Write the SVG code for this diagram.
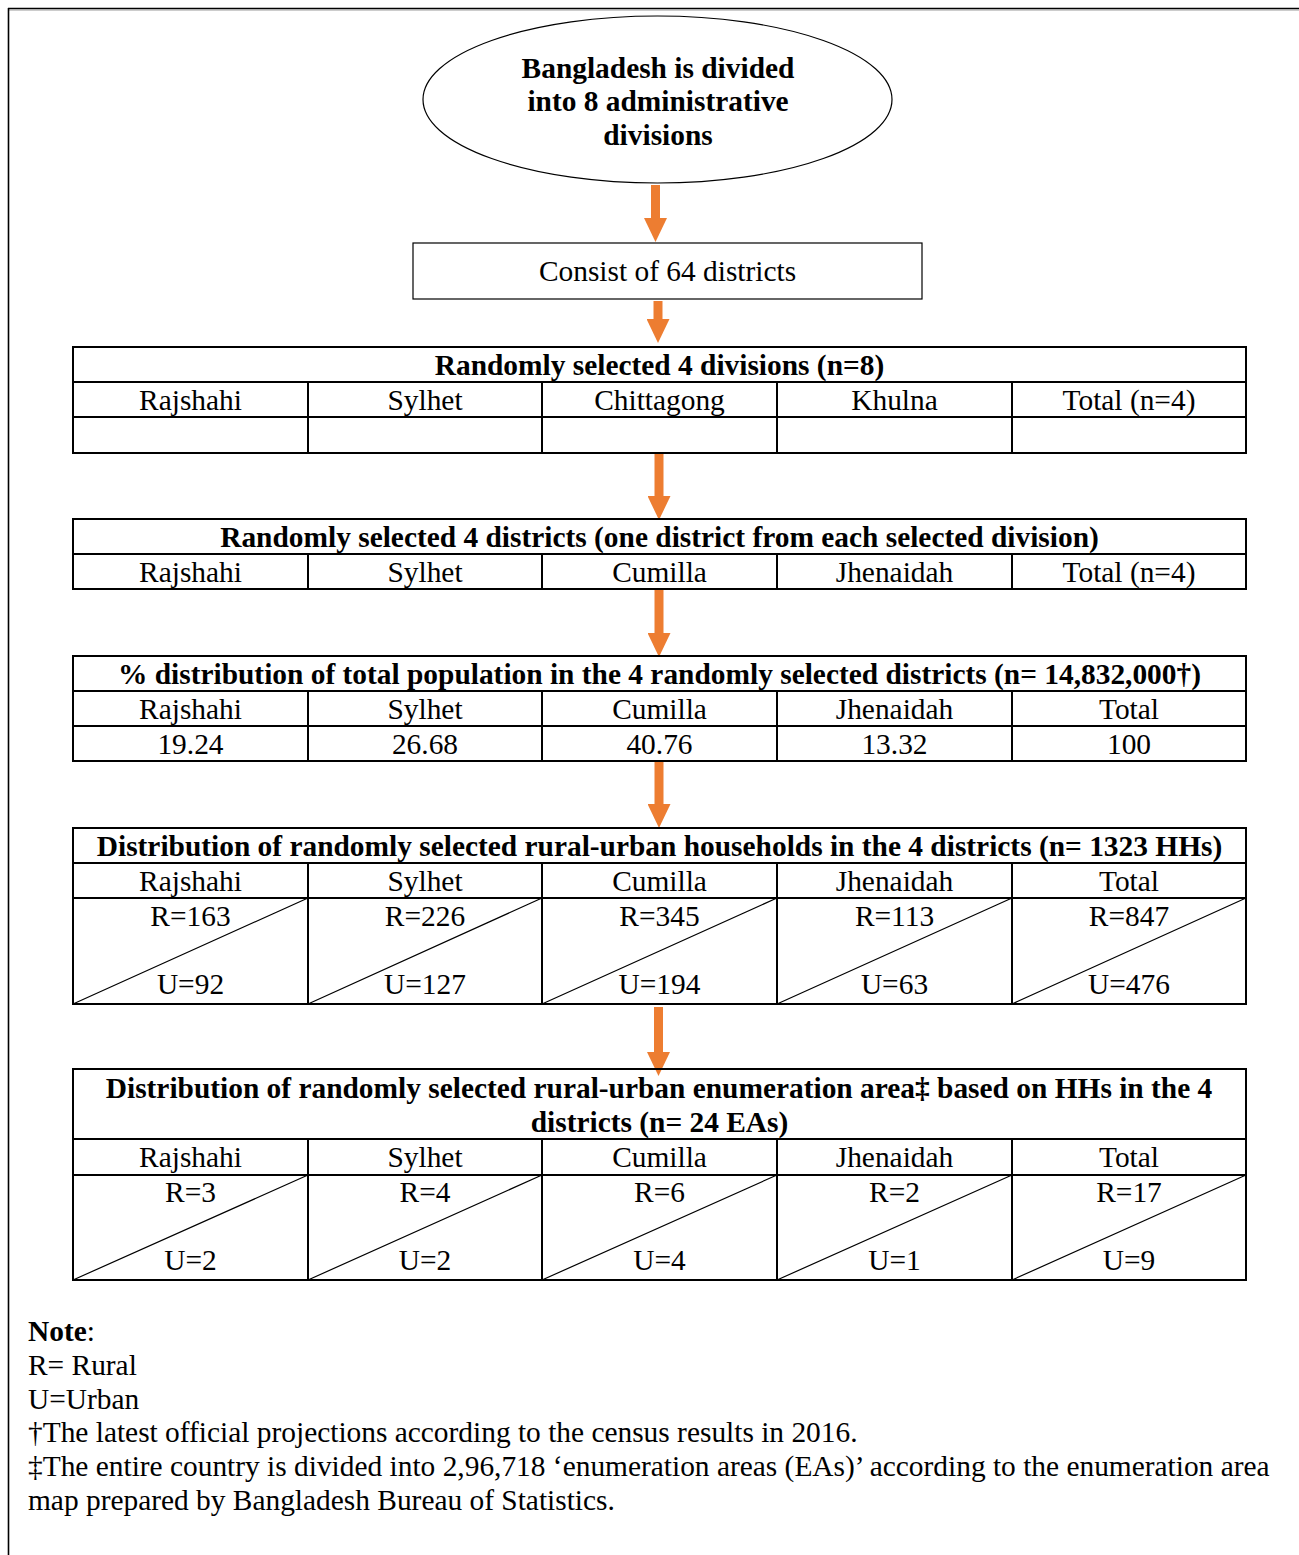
<svg xmlns="http://www.w3.org/2000/svg" width="1299" height="1555" viewBox="0 0 1299 1555">
  <style>
    text { font-family: "Liberation Serif", "Times New Roman", serif; font-size: 29.4px; fill: #000; }
    .c { text-anchor: middle; }
    .b { font-weight: bold; text-anchor: middle; }
    .grid { stroke: #000; stroke-width: 2; fill: none; }
    .diag { stroke: #000; stroke-width: 1.2; fill: none; }
    .thin { stroke: #000; stroke-width: 1.2; fill: #fff; }
    .flow { stroke: #ED7D31; stroke-width: 9; fill: none; marker-end: url(#head); }
  </style>
  <defs>
    <marker id="head" markerUnits="userSpaceOnUse" markerWidth="24" markerHeight="23" viewBox="0 0 24 23" refX="0" refY="11.5" orient="auto">
      <path d="M0,0 L24,11.5 L0,23 Z" fill="#ED7D31"/>
    </marker>
  </defs>

  <rect width="1299" height="1555" fill="#fff"/>

  <!-- page frame -->
  <g id="frame">
    <line x1="8" y1="8.5" x2="1299" y2="8.5" stroke="#000" stroke-width="1.6"/>
    <line x1="9" y1="10" x2="1299" y2="10" stroke="#999" stroke-width="1"/>
    <line x1="8.5" y1="8" x2="8.5" y2="1555" stroke="#000" stroke-width="1.6"/>
  </g>

  <!-- connectors -->
  <g id="connectors">
    <line class="flow" x1="655.5" y1="185" x2="655.5" y2="218"/>
    <line class="flow" x1="658" y1="301" x2="658" y2="319"/>
    <line class="flow" x1="659" y1="454" x2="659" y2="496"/>
    <line class="flow" x1="659" y1="590" x2="659" y2="633"/>
    <line class="flow" x1="659" y1="762" x2="659" y2="804"/>
    <line class="flow" x1="658.5" y1="1007" x2="658.5" y2="1052"/>
  </g>

  <!-- ellipse: divisions -->
  <g id="node-divisions">
    <ellipse class="thin" cx="657.5" cy="99.5" rx="234.5" ry="83.5"/>
    <text class="b" x="658" y="78">Bangladesh is divided</text>
    <text class="b" x="658" y="111">into 8 administrative</text>
    <text class="b" x="658" y="145">divisions</text>
  </g>

  <!-- box: districts -->
  <g id="node-districts">
    <rect class="thin" x="413" y="243" width="509" height="56"/>
    <text class="c" x="667.5" y="281">Consist of 64 districts</text>
  </g>

  <!-- table 1: selected divisions -->
  <g id="node-table-divisions">
    <rect class="grid" x="73" y="347" width="1173" height="106"/>
    <line class="grid" x1="73" y1="382" x2="1246" y2="382"/>
    <line class="grid" x1="73" y1="417" x2="1246" y2="417"/>
    <path class="grid" d="M308,382V453M542,382V453M777,382V453M1012,382V453"/>
    <text class="b" x="659.5" y="375">Randomly selected 4 divisions (n=8)</text>
    <text class="c" x="190.5" y="410">Rajshahi</text>
    <text class="c" x="425" y="410">Sylhet</text>
    <text class="c" x="659.5" y="410">Chittagong</text>
    <text class="c" x="894.5" y="410">Khulna</text>
    <text class="c" x="1129" y="410">Total (n=4)</text>
  </g>

  <!-- table 2: selected districts -->
  <g id="node-table-districts">
    <rect class="grid" x="73" y="519" width="1173" height="70"/>
    <line class="grid" x1="73" y1="554" x2="1246" y2="554"/>
    <path class="grid" d="M308,554V589M542,554V589M777,554V589M1012,554V589"/>
    <text class="b" x="659.5" y="547">Randomly selected 4 districts (one district from each selected division)</text>
    <text class="c" x="190.5" y="582">Rajshahi</text>
    <text class="c" x="425" y="582">Sylhet</text>
    <text class="c" x="659.5" y="582">Cumilla</text>
    <text class="c" x="894.5" y="582">Jhenaidah</text>
    <text class="c" x="1129" y="582">Total (n=4)</text>
  </g>

  <!-- table 3: population distribution -->
  <g id="node-table-population">
    <rect class="grid" x="73" y="656" width="1173" height="105"/>
    <line class="grid" x1="73" y1="691" x2="1246" y2="691"/>
    <line class="grid" x1="73" y1="726" x2="1246" y2="726"/>
    <path class="grid" d="M308,691V761M542,691V761M777,691V761M1012,691V761"/>
    <text class="b" x="659.5" y="684">% distribution of total population in the 4 randomly selected districts (n= 14,832,000†)</text>
    <text class="c" x="190.5" y="719">Rajshahi</text>
    <text class="c" x="425" y="719">Sylhet</text>
    <text class="c" x="659.5" y="719">Cumilla</text>
    <text class="c" x="894.5" y="719">Jhenaidah</text>
    <text class="c" x="1129" y="719">Total</text>
    <text class="c" x="190.5" y="754">19.24</text>
    <text class="c" x="425" y="754">26.68</text>
    <text class="c" x="659.5" y="754">40.76</text>
    <text class="c" x="894.5" y="754">13.32</text>
    <text class="c" x="1129" y="754">100</text>
  </g>

  <!-- table 4: households -->
  <g id="node-table-households">
    <rect class="grid" x="73" y="828" width="1173" height="176"/>
    <line class="grid" x1="73" y1="863" x2="1246" y2="863"/>
    <line class="grid" x1="73" y1="898" x2="1246" y2="898"/>
    <path class="grid" d="M308,863V1004M542,863V1004M777,863V1004M1012,863V1004"/>
    <path class="diag" d="M73,1004L308,898M308,1004L542,898M542,1004L777,898M777,1004L1012,898M1012,1004L1246,898"/>
    <text class="b" x="659.5" y="856">Distribution of randomly selected rural-urban households in the 4 districts (n= 1323 HHs)</text>
    <text class="c" x="190.5" y="891">Rajshahi</text>
    <text class="c" x="425" y="891">Sylhet</text>
    <text class="c" x="659.5" y="891">Cumilla</text>
    <text class="c" x="894.5" y="891">Jhenaidah</text>
    <text class="c" x="1129" y="891">Total</text>
    <text class="c" x="190.5" y="926">R=163</text>
    <text class="c" x="425" y="926">R=226</text>
    <text class="c" x="659.5" y="926">R=345</text>
    <text class="c" x="894.5" y="926">R=113</text>
    <text class="c" x="1129" y="926">R=847</text>
    <text class="c" x="190.5" y="994">U=92</text>
    <text class="c" x="425" y="994">U=127</text>
    <text class="c" x="659.5" y="994">U=194</text>
    <text class="c" x="894.5" y="994">U=63</text>
    <text class="c" x="1129" y="994">U=476</text>
  </g>

  <!-- table 5: enumeration areas -->
  <g id="node-table-eas">
    <rect class="grid" x="73" y="1069" width="1173" height="211"/>
    <line class="grid" x1="73" y1="1139" x2="1246" y2="1139"/>
    <line class="grid" x1="73" y1="1175" x2="1246" y2="1175"/>
    <path class="grid" d="M308,1139V1280M542,1139V1280M777,1139V1280M1012,1139V1280"/>
    <path class="diag" d="M73,1280L308,1175M308,1280L542,1175M542,1280L777,1175M777,1280L1012,1175M1012,1280L1246,1175"/>
    <text class="b" x="659" y="1098">Distribution of randomly selected rural-urban enumeration area‡ based on HHs in the 4</text>
    <text class="b" x="659.5" y="1132">districts (n= 24 EAs)</text>
    <text class="c" x="190.5" y="1167">Rajshahi</text>
    <text class="c" x="425" y="1167">Sylhet</text>
    <text class="c" x="659.5" y="1167">Cumilla</text>
    <text class="c" x="894.5" y="1167">Jhenaidah</text>
    <text class="c" x="1129" y="1167">Total</text>
    <text class="c" x="190.5" y="1202">R=3</text>
    <text class="c" x="425" y="1202">R=4</text>
    <text class="c" x="659.5" y="1202">R=6</text>
    <text class="c" x="894.5" y="1202">R=2</text>
    <text class="c" x="1129" y="1202">R=17</text>
    <text class="c" x="190.5" y="1270">U=2</text>
    <text class="c" x="425" y="1270">U=2</text>
    <text class="c" x="659.5" y="1270">U=4</text>
    <text class="c" x="894.5" y="1270">U=1</text>
    <text class="c" x="1129" y="1270">U=9</text>
  </g>

  <!-- notes -->
  <g id="notes">
    <text x="28" y="1341"><tspan font-weight="bold">Note</tspan>:</text>
    <text x="28" y="1375">R= Rural</text>
    <text x="28" y="1409">U=Urban</text>
    <text x="28" y="1442">†The latest official projections according to the census results in 2016.</text>
    <text x="28" y="1476">‡The entire country is divided into 2,96,718 ‘enumeration areas (EAs)’ according to the enumeration area</text>
    <text x="28" y="1510">map prepared by Bangladesh Bureau of Statistics.</text>
  </g>
</svg>
